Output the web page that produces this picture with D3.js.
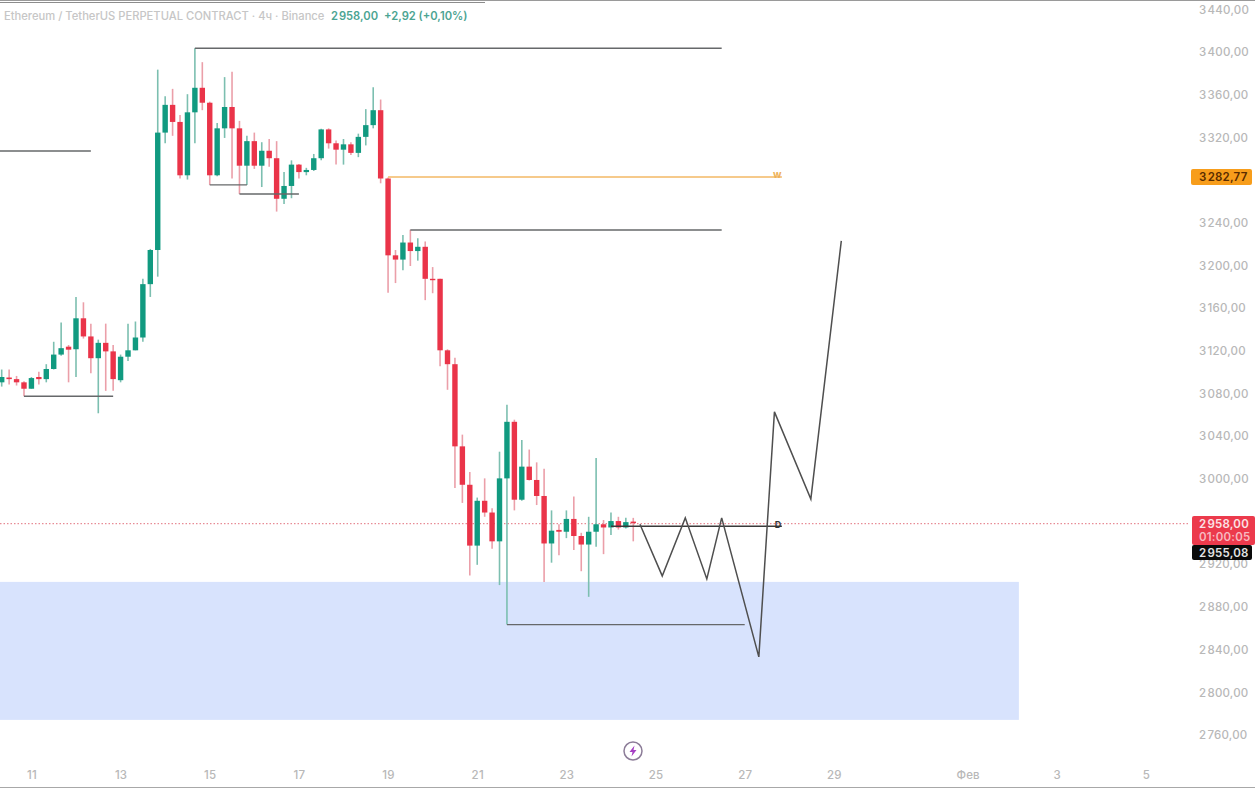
<!DOCTYPE html>
<html>
<head>
<meta charset="utf-8">
<script src="https://cdn.jsdelivr.net/npm/d3@7"></script>
<style>
  html, body { margin: 0; padding: 0; background: #fff; }
  svg { display: block; }
  text { font-family: "Inter", "Noto Sans", sans-serif; }
  .axis path, .axis line { display: none; }
  .axis text { fill: #b8b8b8; font-size: 11.5px; font-weight: 500; letter-spacing: 0.2px; }
</style>
</head>
<body>
<svg id="chart" width="1255" height="788"></svg>
<script>
// 4h candles, index 0 is the first bar on the left
var opens = [3090,3094.5,3093,3090,3084,3095,3093,3102.5,3116,3123.4,3121,3150,3133,3112.6,3127,3119,3092,3114,3120,3132,
  3182,3214,3324,3350,3334,3284,3343,3366,3352,3284,3328,3348,3328,3293,3316,3293,3307,3300,3262,3274,
  3294,3287,3289,3300,3327,3314,3308,3313,3305,3320,3331,3345,3281,3209,3205,3221,3213,3217,3187,3187,
  3120,3107,3030,2994,2937,2979,2968,2941,3000,3053,2980,3011,2998.5,2983.5,2939,2951.7,2950,2962,2946,2938,
  2950,2957,2954,2960,2954,2959.5];
var highs = [3102,3102,3096,3091,3095,3100,3107,3128,3146,3125,3170,3165,3145,3130,3145,3125,3116,3145,3147,3187,
  3215,3383,3358,3365,3340.5,3360,3403,3390,3353,3333,3376,3381,3335,3321,3324,3315,3318,3316,3287,3298,
  3294.5,3291,3304,3327.5,3328,3316.5,3318,3315,3323,3346,3366.5,3355,3282,3214,3228,3233,3225,3222,3198,3187,
  3121,3113,3041,3006,2982,3000,2972,3025,3069,3055,3036,3027,3015,3009,2970,2957,2970,2983,2949,2964,
  3019,2961,2968,2964,2963,2963];
var lows = [3086,3088,3087,3077,3084,3088,3090,3102,3115,3090,3095,3131,3098.5,3061,3082,3082,3090,3110,3120,3128,
  3170,3189,3314,3321,3281,3280,3314,3345,3275,3283,3319,3281,3266.5,3275,3290,3273,3292,3250,3257,3262.5,
  3281,3284,3288,3298,3309,3294,3294,3303,3301,3312,3328,3276.5,3174,3183,3195,3199,3204,3167,3173.5,3105,
  3083,2991,2977,2909,2919,2964,2934,2900,2863,2970,2979,2998,2975,2903,2921,2928,2944,2933,2913,2889,
  2936,2929,2947,2952,2953,2941];
var closes = [3095,3093,3090,3084,3094,3093,3102.5,3116,3122,3120.6,3150,3133,3112.6,3127,3119,3093,3114,3120,3132,3182,
  3214,3324,3350,3334,3284,3343,3366,3352,3284,3328,3348,3328,3293,3316,3293,3307,3300,3262,3274,3294,
  3287,3289,3300,3327,3314,3308,3313,3305,3320,3331,3345,3281,3209,3205,3221,3213,3217,3187,3186,3120,
  3107,3030,2994,2937,2979,2968,2941,3000,3053,2980,3011,2998.5,2983.5,2939,2951,2950,2962,2946,2938,2950,
  2957,2954,2960,2954,2959,2958];

// 3280 and 2960 sit behind the price tags in the original, so they are left out
var priceTicks = [3440,3400,3360,3320,3240,3200,3160,3120,3080,3040,3000,2920,2880,2840,2800,2760];
var dateTicks = [4,16,28,40,52,64,76,88,100,112,130,142,154];
var dateLabels = ["11","13","15","17","19","21","23","25","27","29","Фев","3","5"];

// drawn levels: start bar, end bar, price
var levelStarts = [26,-1,3,28,32,55,68];
var levelEnds = [96.9,12,15,33,40,96.9,100];
var levelPrices = [3403,3306.8,3077,3275,3266.5,3232.8,2863];

// forecast path drawn by hand on the chart
var pathBars = [85.9,88.9,92,94.9,96.9,101.9,104,108.9,113];
var pathPrices = [2957,2908.6,2963,2905.8,2963,2832.7,3062.3,2980.7,3222.5];

var zoneTop = 2903, zoneBottom = 2773.7, zoneEnd = 136.9;
var weeklyPrice = 3282.77, dailyPrice = 2955.08, lastPrice = 2958;

var svg = d3.select("#chart");
var plotRight = 1190;

var x = d3.scaleLinear().domain([-0.229, 159.93]).range([0, plotRight]);
var y = d3.scaleLinear().domain([3400, 2760]).range([51.5, 734.5]);

var fmt = function(v) {
  var s = v.toFixed(2).replace(".", ",");
  return s.charAt(0) + "\u200a" + s.slice(1);
};

// demand zone
svg.append("rect")
  .attr("x", 0)
  .attr("y", y(zoneTop))
  .attr("width", x(zoneEnd))
  .attr("height", y(zoneBottom) - y(zoneTop))
  .attr("fill", "#d8e3fd");

// edges of the screenshot
svg.append("line").attr("x1", 0).attr("x2", 1255).attr("y1", 0.5).attr("y2", 0.5).attr("stroke", "#9a9a9a");
svg.append("line").attr("x1", 0).attr("x2", 485).attr("y1", 2.5).attr("y2", 2.5).attr("stroke", "#8c8c8c");
svg.append("line").attr("x1", 0).attr("x2", 1255).attr("y1", 787.5).attr("y2", 787.5).attr("stroke", "#a8a8a8");

// last price line
svg.append("line")
  .attr("x1", 0).attr("x2", plotRight)
  .attr("y1", y(lastPrice) + 0.5).attr("y2", y(lastPrice) + 0.5)
  .attr("stroke", "#e2707d")
  .attr("stroke-width", 1)
  .attr("stroke-dasharray", "1.5,2");

// candles
var candles = svg.append("g").selectAll("g")
  .data(d3.range(opens.length))
  .enter().append("g");

var up = "#119a80", down = "#ea3449";

candles.append("line")
  .attr("x1", function(i) { return x(i); })
  .attr("x2", function(i) { return x(i); })
  .attr("y1", function(i) { return y(highs[i]); })
  .attr("y2", function(i) { return y(lows[i]); })
  .attr("stroke", function(i) { return closes[i] >= opens[i] ? "#7cbfb0" : "#eb9fa9"; })
  .attr("stroke-width", 1.6);

candles.append("rect")
  .attr("x", function(i) { return x(i) - 2.7; })
  .attr("y", function(i) { return y(Math.max(opens[i], closes[i])); })
  .attr("width", 5.4)
  .attr("height", function(i) { return Math.max(1.4, Math.abs(y(opens[i]) - y(closes[i]))); })
  .attr("fill", function(i) { return closes[i] >= opens[i] ? up : down; });

// horizontal levels
svg.append("g").selectAll("line")
  .data(levelPrices)
  .enter().append("line")
  .attr("x1", function(d, i) { return x(levelStarts[i]); })
  .attr("x2", function(d, i) { return x(levelEnds[i]); })
  .attr("y1", function(d) { return y(d); })
  .attr("y2", function(d) { return y(d); })
  .attr("stroke", "#66686a")
  .attr("stroke-width", 1.4);

svg.append("line")
  .attr("x1", x(52)).attr("x2", x(105))
  .attr("y1", y(weeklyPrice) + 0.5).attr("y2", y(weeklyPrice) + 0.5)
  .attr("stroke", "#f3b964").attr("stroke-width", 1.5);
svg.append("text").attr("x", 773).attr("y", y(weeklyPrice) + 1)
  .attr("fill", "#eeb158").attr("font-size", 10).attr("font-weight", 700).text("w");

svg.append("line")
  .attr("x1", x(82)).attr("x2", x(105))
  .attr("y1", y(dailyPrice)).attr("y2", y(dailyPrice))
  .attr("stroke", "#3a3a3a").attr("stroke-width", 1.4);
svg.append("text").attr("x", x(105) - 7).attr("y", y(dailyPrice) + 1.5)
  .attr("fill", "#333").attr("font-size", 9).attr("font-weight", 700).text("D");

// forecast zigzag
var pathLine = d3.line()
  .x(function(i) { return x(pathBars[i]); })
  .y(function(i) { return y(pathPrices[i]); });

svg.append("path")
  .attr("d", pathLine(d3.range(pathBars.length)))
  .attr("fill", "none")
  .attr("stroke", "#4f4f4f")
  .attr("stroke-width", 1.5);

// axes
svg.append("g")
  .attr("class", "axis")
  .attr("transform", "translate(1199,0.5)")
  .call(d3.axisRight(y).tickValues(priceTicks).tickSize(0).tickPadding(0).tickFormat(function(d) { return fmt(d); }));

svg.append("g")
  .attr("class", "axis")
  .attr("transform", "translate(0,771)")
  .call(d3.axisBottom(x).tickValues(dateTicks).tickSize(0).tickPadding(0).tickFormat(function(d, i) { return dateLabels[i]; }));

// price tags
function tag(top, size, fill, colors, lines) {
  svg.append("rect").attr("x", size.x).attr("y", top).attr("width", size.w).attr("height", size.h).attr("rx", 2).attr("fill", fill);
  lines.forEach(function(t, i) {
    svg.append("text")
      .attr("x", 1199)
      .attr("y", top + 12 + i * 13)
      .attr("fill", colors[i])
      .attr("font-size", 11.5)
      .attr("font-weight", 600)
      .attr("letter-spacing", 0.2)
      .text(t);
  });
}
tag(169, {x: 1191, w: 61, h: 16}, "#f79d1b", ["#5a2c00"], [fmt(weeklyPrice)]);
tag(516, {x: 1192, w: 63, h: 29}, "#ec3a4c", ["#fbe3e6", "#f7b9c0"], [fmt(lastPrice), "01:00:05"]);
tag(545, {x: 1192, w: 60, h: 15}, "#0a0a0a", ["#e4e4e4"], [fmt(dailyPrice)]);

// header
var head = svg.append("text").attr("x", 4).attr("y", 20).attr("font-size", 11.2).attr("font-weight", 500);
head.append("tspan").attr("fill", "#c6c6c6").text("Ethereum / TetherUS PERPETUAL CONTRACT · 4ч · Binance");
head.append("tspan").attr("x", 331).attr("fill", "#4ba492").attr("font-weight", 600).text(fmt(lastPrice));
head.append("tspan").attr("x", 384).attr("fill", "#4ba492").attr("font-weight", 600).text("+2,92 (+0,10%)");

// lightning badge
var bolt = svg.append("g").attr("transform", "translate(633,751)");
bolt.append("circle").attr("r", 9).attr("fill", "#fff").attr("stroke", "#8c7c98").attr("stroke-width", 1.5);
bolt.append("path").attr("d", "M1.5,-5.5 L-3.5,1 L-0.5,1 L-1.5,5.5 L3.5,-1 L0.5,-1 Z").attr("fill", "#a63fc4");
</script>
</body>
</html>
